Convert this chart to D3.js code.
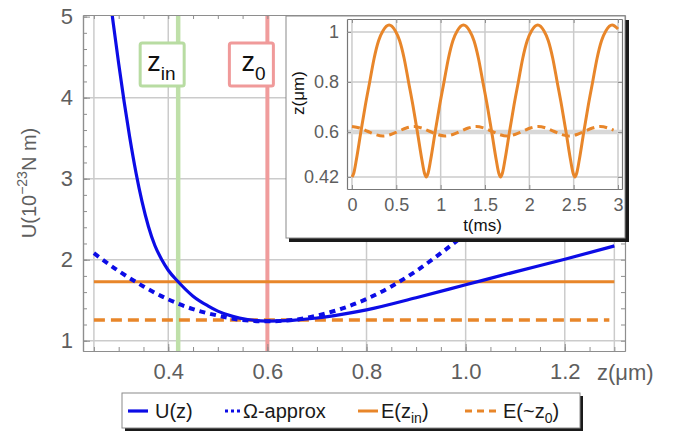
<!DOCTYPE html>
<html>
<head>
<meta charset="utf-8">
<script src="https://cdn.jsdelivr.net/npm/d3@7"></script>
<style>
  body { margin: 0; background: #fff; }
  svg { display: block; font-family: "Liberation Sans", Arial, sans-serif; }
</style>
</head>
<body>
<figure id="potentialChart" style="margin:0"></figure>
<script>
// potential U(z)
const uZ = [0.285, 0.289, 0.30, 0.311, 0.322, 0.335, 0.347, 0.36, 0.373, 0.387, 0.40, 0.42, 0.45, 0.48, 0.5, 0.53, 0.56, 0.6, 0.65, 0.7, 0.75, 0.8, 0.9, 1.0, 1.1, 1.2, 1.3];
const uVal = [5.11, 4.92, 4.42, 3.95, 3.52, 3.07, 2.72, 2.41, 2.175, 2.0, 1.87, 1.728, 1.55, 1.43, 1.365, 1.30, 1.262, 1.242, 1.252, 1.28, 1.325, 1.38, 1.53, 1.69, 1.85, 2.005, 2.17];

// harmonic (Omega) approximation
const approxZ = [0.25, 0.3, 0.35, 0.4, 0.45, 0.5, 0.55, 0.6, 0.65, 0.7, 0.75, 0.8, 0.85, 0.9, 0.95, 1.0];
const approxVal = [2.08, 1.86, 1.67, 1.51, 1.39, 1.31, 1.255, 1.24, 1.255, 1.31, 1.395, 1.515, 1.67, 1.86, 2.08, 2.32];

const energyZ = [0.25, 1.3];
const eIn = 1.728;
const eZ0 = 1.255;
const zIn = 0.42;
const z0 = 0.6;

const xTicks = [0.4, 0.6, 0.8, 1.0, 1.2];
const xTickLabels = ["0.4", "0.6", "0.8", "1.0", "1.2"];
const xGrid = [0.25, 0.4, 0.6, 0.8, 1.0, 1.2, 1.3];
const yTicks = [1, 2, 3, 4, 5];

// inset: z(t) trajectories
const insetT = [0, 0.02, 0.05, 0.1, 0.15, 0.2, 0.25, 0.3, 0.35, 0.419, 0.488, 0.538, 0.588, 0.638, 0.688, 0.738, 0.788, 0.818, 0.838,
  0.858, 0.888, 0.938, 0.988, 1.038, 1.088, 1.138, 1.188, 1.257, 1.326, 1.376, 1.426, 1.476, 1.526, 1.576, 1.626, 1.656, 1.676,
  1.696, 1.726, 1.776, 1.826, 1.876, 1.926, 1.976, 2.026, 2.095, 2.164, 2.214, 2.264, 2.314, 2.364, 2.414, 2.464, 2.494, 2.514,
  2.534, 2.564, 2.614, 2.664, 2.714, 2.764, 2.814, 2.864, 2.933, 3.0];
const insetZ = [0.42, 0.435, 0.49, 0.60, 0.705, 0.80, 0.895, 0.965, 1.005, 1.028, 1.005, 0.965, 0.895, 0.80, 0.705, 0.60, 0.49, 0.435, 0.42,
  0.435, 0.49, 0.60, 0.705, 0.80, 0.895, 0.965, 1.005, 1.028, 1.005, 0.965, 0.895, 0.80, 0.705, 0.60, 0.49, 0.435, 0.42,
  0.435, 0.49, 0.60, 0.705, 0.80, 0.895, 0.965, 1.005, 1.028, 1.005, 0.965, 0.895, 0.80, 0.705, 0.60, 0.49, 0.435, 0.42,
  0.435, 0.49, 0.60, 0.705, 0.80, 0.895, 0.965, 1.005, 1.028, 1.012];
const insetDashT = [0, 0.0875, 0.175, 0.2625, 0.35, 0.4375, 0.525, 0.6125, 0.7, 0.7875, 0.875, 0.9625, 1.05, 1.1375, 1.225, 1.3125,
  1.4, 1.4875, 1.575, 1.6625, 1.75, 1.8375, 1.925, 2.0125, 2.1, 2.1875, 2.275, 2.3625, 2.45, 2.5375, 2.625, 2.7125, 2.8, 2.95];
const insetDashZ = [0.622, 0.616, 0.603, 0.590, 0.584, 0.590, 0.603, 0.616, 0.622, 0.616, 0.603, 0.590, 0.584, 0.590, 0.603, 0.616,
  0.622, 0.616, 0.603, 0.590, 0.584, 0.590, 0.603, 0.616, 0.622, 0.616, 0.603, 0.590, 0.584, 0.590, 0.603, 0.616, 0.622, 0.607];
const insetXTicks = [0, 0.5, 1, 1.5, 2, 2.5, 3];
const insetYTicks = [0.42, 0.6, 0.8, 1];

const legendLabels = ["U(z)", "Ω-approx", "E(z", "E(~z"];

class PotentialChart {

  constructor() {
    this.width = 691;
    this.height = 437;
    this.plot = { left: 83, right: 625, top: 15, bottom: 351 };
    this.inset = { left: 347, right: 622, top: 19, bottom: 189 };
    this.blue = "#0c0ce6";
    this.orange = "#e8862a";
    this.gridColor = "#cbcbcb";
    this.frameColor = "#8e8e8e";
    this.labelColor = "#5e5e5e";
  }

  init() {
    this.svg = d3.select("figure#potentialChart").append("svg")
      .attr("width", this.width)
      .attr("height", this.height);
    this.x = d3.scaleLinear().domain([0.228, 1.3215]).range([this.plot.left, this.plot.right]);
    this.y = d3.scaleLinear().domain([0.873, 5.02]).range([this.plot.bottom, this.plot.top]);
    this.tx = d3.scaleLinear().domain([-0.056, 3.045]).range([this.inset.left, this.inset.right]);
    this.tz = d3.scaleLinear().domain([0.372, 1.052]).range([this.inset.bottom, this.inset.top]);
  }

  update() {
    this.drawMain();
    this.drawInset();
    this.drawLegend();
  }

  // style an axis the Mathematica way: gray frame, inward ticks
  styleAxis(g, fontSize) {
    g.select(".domain").attr("stroke", this.frameColor).attr("stroke-width", 1.2);
    g.selectAll(".tick line").attr("stroke", this.frameColor).attr("stroke-width", 1);
    g.selectAll(".tick text")
      .attr("fill", this.labelColor)
      .attr("font-size", fontSize)
      .attr("font-family", "Liberation Sans, Arial, sans-serif");
  }

  drawMain() {
    const svg = this.svg;
    const p = this.plot;
    const x = this.x, y = this.y;

    svg.append("clipPath").attr("id", "plotClip")
      .append("rect")
      .attr("x", p.left).attr("y", p.top)
      .attr("width", p.right - p.left).attr("height", p.bottom - p.top);

    // grid
    svg.append("g").selectAll("line").data(xGrid).enter().append("line")
      .attr("x1", d => x(d)).attr("x2", d => x(d))
      .attr("y1", p.top).attr("y2", p.bottom)
      .attr("stroke", this.gridColor).attr("stroke-width", 1.5);
    svg.append("g").selectAll("line").data(yTicks.slice(0, 4)).enter().append("line")
      .attr("x1", p.left).attr("x2", p.right)
      .attr("y1", d => y(d)).attr("y2", d => y(d))
      .attr("stroke", this.gridColor).attr("stroke-width", 1.5);

    // marker lines for z_in and z_0
    svg.append("line")
      .attr("x1", x(zIn)).attr("x2", x(zIn)).attr("y1", p.top).attr("y2", p.bottom)
      .attr("stroke", "#bfe0a9").attr("stroke-width", 4.5);
    svg.append("line")
      .attr("x1", x(z0)).attr("x2", x(z0)).attr("y1", p.top).attr("y2", p.bottom)
      .attr("stroke", "#f09c9c").attr("stroke-width", 4);

    const curves = svg.append("g").attr("clip-path", "url(#plotClip)");

    // energy levels
    curves.append("line")
      .attr("x1", x(energyZ[0])).attr("x2", x(energyZ[1]))
      .attr("y1", y(eIn)).attr("y2", y(eIn))
      .attr("stroke", this.orange).attr("stroke-width", 3);
    curves.append("line")
      .attr("x1", x(energyZ[0])).attr("x2", x(energyZ[1]) - 5)
      .attr("y1", y(eZ0)).attr("y2", y(eZ0))
      .attr("stroke", this.orange).attr("stroke-width", 3.5)
      .attr("stroke-dasharray", "11,6");

    const line = d3.line()
      .x(d => x(d[0]))
      .y(d => y(d[1]))
      .curve(d3.curveMonotoneX);

    curves.append("path")
      .attr("d", line(approxZ.map((z, i) => [z, approxVal[i]])))
      .attr("fill", "none")
      .attr("stroke", this.blue).attr("stroke-width", 4)
      .attr("stroke-dasharray", "6,5");
    curves.append("path")
      .attr("d", line(uZ.map((z, i) => [z, uVal[i]])))
      .attr("fill", "none")
      .attr("stroke", this.blue).attr("stroke-width", 3.2);

    // frame + ticks
    const minorX = d3.range(0.25, 1.31, 0.05);
    const minorY = d3.range(1, 5.01, 0.2);
    const bottom = svg.append("g").attr("transform", `translate(0,${p.bottom})`)
      .call(d3.axisBottom(x).tickValues(xTicks).tickFormat((d, i) => xTickLabels[i])
        .tickSizeInner(-7).tickSizeOuter(0).tickPadding(12));
    this.styleAxis(bottom, 22);
    const bottomMinor = svg.append("g").attr("transform", `translate(0,${p.bottom})`)
      .call(d3.axisBottom(x).tickValues(minorX).tickFormat("").tickSizeInner(-4).tickSizeOuter(0));
    this.styleAxis(bottomMinor, 0);

    const left = svg.append("g").attr("transform", `translate(${p.left},0)`)
      .call(d3.axisLeft(y).tickValues(yTicks).tickFormat(d3.format("d"))
        .tickSizeInner(-7).tickSizeOuter(0).tickPadding(10));
    this.styleAxis(left, 22);
    const leftMinor = svg.append("g").attr("transform", `translate(${p.left},0)`)
      .call(d3.axisLeft(y).tickValues(minorY).tickFormat("").tickSizeInner(-4).tickSizeOuter(0));
    this.styleAxis(leftMinor, 0);

    const right = svg.append("g").attr("transform", `translate(${p.right},0)`)
      .call(d3.axisRight(y).tickValues(minorY).tickFormat("")
        .tickSizeInner(-4).tickSizeOuter(0));
    this.styleAxis(right, 0);
    const top = svg.append("g").attr("transform", `translate(0,${p.top})`)
      .call(d3.axisTop(x).tickValues(minorX).tickFormat("")
        .tickSizeInner(-4).tickSizeOuter(0));
    this.styleAxis(top, 0);

    // axis labels
    const yl = svg.append("text")
      .attr("transform", "translate(36,183) rotate(-90)")
      .attr("text-anchor", "middle")
      .attr("fill", this.labelColor)
      .attr("font-size", 20);
    yl.append("tspan").text("U(10");
    yl.append("tspan").attr("font-size", 14).attr("dy", -9).text("−23");
    yl.append("tspan").attr("dy", 9).text("N m)");

    svg.append("text")
      .attr("x", 597).attr("y", 380)
      .attr("fill", this.labelColor)
      .attr("font-size", 22)
      .text("z(μm)");

    // labelled boxes for z_in and z_0
    const tags = [
      { z: zIn, sub: "in", color: "#b8dca2" },
      { z: z0, sub: "0", color: "#f09a9a" }
    ];
    tags.forEach(t => {
      const bx = x(t.z) - 38;
      svg.append("rect")
        .attr("x", bx).attr("y", 43)
        .attr("width", 44).attr("height", 43)
        .attr("rx", 2)
        .attr("fill", "#fff")
        .attr("stroke", t.color).attr("stroke-width", 3);
      const txt = svg.append("text")
        .attr("x", t.sub === "in" ? bx + 7 : bx + 12).attr("y", 71)
        .attr("fill", "#111")
        .attr("font-size", 27);
      txt.append("tspan").text("z");
      txt.append("tspan").attr("font-size", 19).attr("dy", 9).text(t.sub);
    });
  }

  drawInset() {
    const svg = this.svg;
    const q = this.inset;
    const tx = this.tx, tz = this.tz;

    // box with drop shadow
    svg.append("rect")
      .attr("x", 289).attr("y", 20).attr("width", 340).attr("height", 222)
      .attr("fill", "#1a1a1a");
    svg.append("rect")
      .attr("x", 286).attr("y", 16).attr("width", 339).attr("height", 222)
      .attr("fill", "#fff")
      .attr("stroke", "#8a8a8a").attr("stroke-width", 1);

    svg.append("g").selectAll("line").data(insetXTicks).enter().append("line")
      .attr("x1", d => tx(d)).attr("x2", d => tx(d))
      .attr("y1", q.top).attr("y2", q.bottom)
      .attr("stroke", this.gridColor).attr("stroke-width", 1.5);
    svg.append("g").selectAll("line").data(insetYTicks).enter().append("line")
      .attr("x1", q.left).attr("x2", q.right)
      .attr("y1", d => tz(d)).attr("y2", d => tz(d))
      .attr("stroke", this.gridColor).attr("stroke-width", 1.5);
    // reference level z_0
    svg.append("line")
      .attr("x1", q.left).attr("x2", q.right)
      .attr("y1", tz(z0)).attr("y2", tz(z0))
      .attr("stroke", "#d8d8d8").attr("stroke-width", 4.5);

    const line = d3.line()
      .x(d => tx(d[0]))
      .y(d => tz(d[1]))
      .curve(d3.curveMonotoneX);
    svg.append("path")
      .attr("d", line(insetDashT.map((t, i) => [t, insetDashZ[i]])))
      .attr("fill", "none")
      .attr("stroke", this.orange).attr("stroke-width", 3)
      .attr("stroke-dasharray", "8,5");
    svg.append("path")
      .attr("d", line(insetT.map((t, i) => [t, insetZ[i]])))
      .attr("fill", "none")
      .attr("stroke", this.orange).attr("stroke-width", 3);

    // frame
    const ib = svg.append("g").attr("transform", `translate(0,${q.bottom})`)
      .call(d3.axisBottom(tx).tickValues(insetXTicks).tickFormat(d3.format("~g"))
        .tickSizeInner(-4).tickSizeOuter(0).tickPadding(9));
    this.styleAxis(ib, 18);
    const il = svg.append("g").attr("transform", `translate(${q.left},0)`)
      .call(d3.axisLeft(tz).tickValues(insetYTicks).tickFormat(d3.format("~g"))
        .tickSizeInner(-4).tickSizeOuter(0).tickPadding(8));
    this.styleAxis(il, 18);
    const ir = svg.append("g").attr("transform", `translate(${q.right},0)`)
      .call(d3.axisRight(tz).tickValues(insetYTicks).tickFormat("").tickSizeInner(-4).tickSizeOuter(0));
    this.styleAxis(ir, 0);
    const it = svg.append("g").attr("transform", `translate(0,${q.top})`)
      .call(d3.axisTop(tx).tickValues(insetXTicks).tickFormat("").tickSizeInner(-4).tickSizeOuter(0));
    this.styleAxis(it, 0);
    [ib, il, ir, it].forEach(g => g.select(".domain").attr("stroke", "#777"));

    svg.append("text")
      .attr("x", (q.left + q.right) / 2 - 2).attr("y", 231)
      .attr("text-anchor", "middle")
      .attr("fill", "#111")
      .attr("font-size", 17)
      .text("t(ms)");
    svg.append("text")
      .attr("transform", `translate(304,93) rotate(-90)`)
      .attr("text-anchor", "middle")
      .attr("fill", "#111")
      .attr("font-size", 17)
      .text("z(μm)");
  }

  drawLegend() {
    const svg = this.svg;
    svg.append("rect")
      .attr("x", 125).attr("y", 396).attr("width", 458).attr("height", 35)
      .attr("fill", "#1a1a1a");
    svg.append("rect")
      .attr("x", 122).attr("y", 393).attr("width", 458).attr("height", 35)
      .attr("fill", "#fff")
      .attr("stroke", "#8a8a8a").attr("stroke-width", 1);

    const items = [
      { x0: 128, x1: 148, color: this.blue, dash: null, width: 3.2, tx: 155 },
      { x0: 225, x1: 240, color: this.blue, dash: "3,3", width: 3, tx: 243 },
      { x0: 358, x1: 378, color: this.orange, dash: null, width: 3, tx: 381 },
      { x0: 465, x1: 498, color: this.orange, dash: "7,5", width: 3, tx: 503 }
    ];
    const subs = [null, null, "in", "0"];
    items.forEach((it, i) => {
      svg.append("line")
        .attr("x1", it.x0).attr("x2", it.x1)
        .attr("y1", 411).attr("y2", 411)
        .attr("stroke", it.color).attr("stroke-width", it.width)
        .attr("stroke-dasharray", it.dash);
      const t = svg.append("text")
        .attr("x", it.tx).attr("y", 418)
        .attr("fill", "#1a1a1a")
        .attr("font-size", 20);
      t.append("tspan").text(legendLabels[i]);
      if (subs[i]) {
        t.append("tspan").attr("font-size", 14).attr("dy", 5).text(subs[i]);
        t.append("tspan").attr("dy", -5).text(")");
      }
    });
  }
}

var potentialChart = new PotentialChart();
potentialChart.init();
potentialChart.update();
</script>
</body>
</html>
